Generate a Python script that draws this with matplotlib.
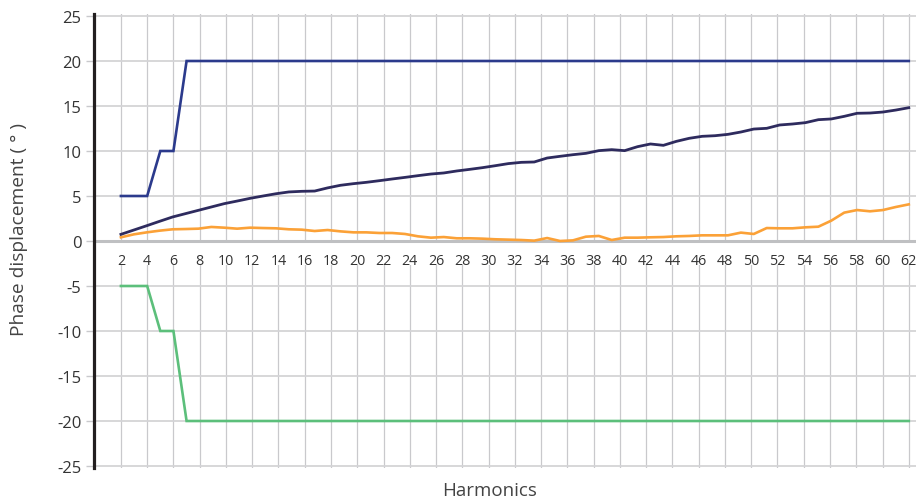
import numpy as np
import matplotlib
matplotlib.use("Agg")
import matplotlib.pyplot as plt

plt.rcParams['font.family'] = ['Open Sans', 'DejaVu Sans']

# ---- data ----
harmonics = list(range(2, 63))                      # category axis 2..62
limit_upper = [5, 5, 5, 10, 10] + [20] * 56         # blue step line
limit_lower = [-5, -5, -5, -10, -10] + [-20] * 56   # green step line

# measured series: 62 samples spread evenly across harmonics 2..62
measured_dark = [0.74, 1.22, 1.70, 2.19, 2.67, 3.04, 3.41, 3.78, 4.15, 4.44,
                 4.74, 5.00, 5.25, 5.45, 5.52, 5.55, 5.90, 6.19, 6.37, 6.52,
                 6.70, 6.89, 7.07, 7.26, 7.44, 7.56, 7.78, 7.96, 8.15, 8.37,
                 8.60, 8.74, 8.78, 9.22, 9.41, 9.59, 9.74, 10.04, 10.15, 10.04,
                 10.48, 10.78, 10.63, 11.07, 11.41, 11.63, 11.70, 11.85, 12.11, 12.44,
                 12.52, 12.89, 13.00, 13.15, 13.48, 13.56, 13.85, 14.19, 14.22, 14.33,
                 14.55, 14.81]
measured_orange = [0.41, 0.74, 0.96, 1.15, 1.30, 1.33, 1.37, 1.56, 1.48, 1.37,
                   1.48, 1.44, 1.41, 1.30, 1.26, 1.11, 1.22, 1.07, 0.96, 0.96,
                   0.89, 0.89, 0.78, 0.52, 0.37, 0.44, 0.30, 0.30, 0.26, 0.19,
                   0.15, 0.11, 0.04, 0.33, 0.00, 0.07, 0.48, 0.56, 0.11, 0.37,
                   0.37, 0.41, 0.44, 0.52, 0.56, 0.63, 0.63, 0.63, 0.93, 0.78,
                   1.44, 1.41, 1.41, 1.52, 1.59, 2.26, 3.15, 3.44, 3.30, 3.44,
                   3.78, 4.07]

x_ticks = list(range(2, 63, 2))
y_ticks = list(range(-25, 30, 5))
y_ticklabels = [str(v) for v in y_ticks]

# ---- figure ----
W, H = 916, 502
fig = plt.figure(figsize=(W / 100, H / 100), dpi=100)
ax_left, ax_right = 94, 916
ax_top, ax_bot = 15.2, 468.8
ax = fig.add_axes([ax_left / W, (H - ax_bot) / H, (ax_right - ax_left) / W, (ax_bot - ax_top) / H])

ax.set_xlim(-0.05, 62.55)
ax.set_ylim(-25.2, 25.2)

grid_c = '#c9c9cc'
for xv in x_ticks:
    ax.axvline(xv, color=grid_c, lw=0.9, zorder=0.5)
for yv in y_ticks:
    if yv != 0:
        ax.axhline(yv, color='#d4d4d6', lw=1.3, zorder=0.6)

# white band behind the category labels
ax.axhspan(-2.7, 0, color='white', zorder=1, lw=0)
ax.axhline(0, color='#bfc0c2', lw=2.2, zorder=1.5)

xm = np.linspace(harmonics[0], harmonics[-1], len(measured_dark))

ax.plot(harmonics, limit_upper, color='#2b3a8c', lw=1.9, zorder=3, solid_joinstyle='miter')
ax.plot(harmonics, limit_lower, color='#5cbf7b', lw=1.9, zorder=3, solid_joinstyle='miter')
ax.plot(xm, measured_orange, color='#fba137', lw=1.9, zorder=3)
ax.plot(xm, measured_dark, color='#2e2b5e', lw=2.0, zorder=4)

# spines
for s in ['top', 'right', 'bottom']:
    ax.spines[s].set_visible(False)
ax.spines['left'].set_color('#231f20')
ax.spines['left'].set_linewidth(2.3)
ax.spines['left'].set_zorder(5)

ax.set_yticks(y_ticks)
ax.set_yticklabels(y_ticklabels)
ax.tick_params(axis='y', length=6, width=1.0, color=grid_c, labelsize=12,
               labelcolor='#333333', pad=3)

ax.set_xticks([])
for xv in x_ticks:
    ax.text(xv, -2.2, str(xv), ha='center', va='center', fontsize=10.3,
            color='#333333', zorder=6)

fig.text(19 / W, 1 - 230 / H, 'Phase displacement ( ° )', rotation=90,
         ha='center', va='center', fontsize=13.8, color='#444444')
fig.text(490 / W, 1 - 491 / H, 'Harmonics', ha='center', va='center',
         fontsize=13.5, color='#444444')

fig.savefig('out.png', dpi=100)
